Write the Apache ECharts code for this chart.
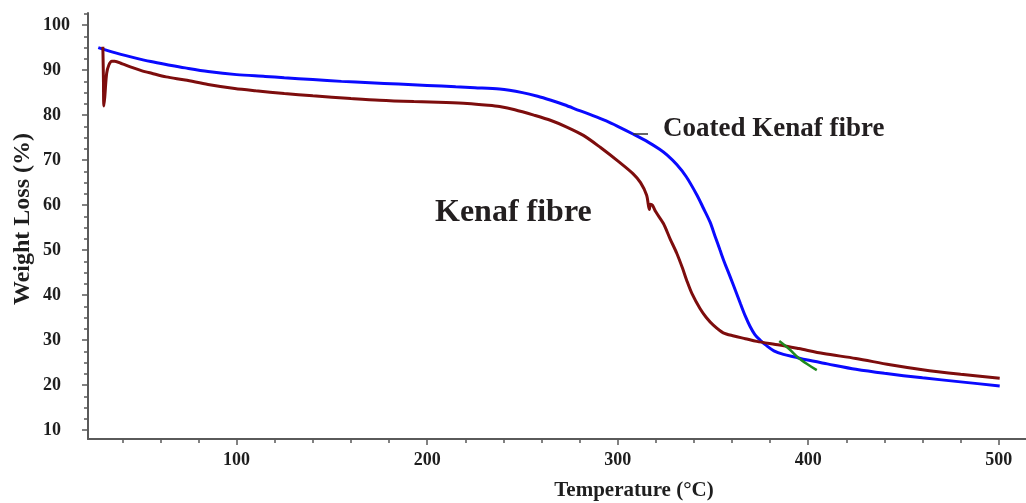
<!DOCTYPE html>
<html>
<head>
<meta charset="utf-8">
<script src="https://cdn.jsdelivr.net/npm/echarts@6/dist/echarts.min.js"></script>
<style>
html,body{margin:0;padding:0;background:#fff;}
#c{width:1026px;height:503px;}
</style>
</head>
<body>
<div id="c"></div>
<script>
// ---- data (temperature °C, weight %) ----
const kenafFibre = [
  [29.8,95.2],[30.1,88.0],[30.3,82.0],[30.8,84.0],[31.8,89.3],[33,91.2],[34.5,92.0],[36,92.0],
  [40,91.4],[45,90.6],[50,89.9],[55.4,89.3],[63,88.5],[73,87.8],[85,86.8],[99,85.9],[110,85.4],
  [125,84.8],[140,84.3],[160,83.7],[175,83.3],[193,83.0],[210,82.8],[221,82.6],[232,82.2],
  [238,81.9],[246,81.2],[256,80.0],[265,78.8],[273,77.4],[282,75.5],[291,72.8],[301,69.5],
  [308,67.0],[312,65.0],[315.2,62.2],[316.6,59.0],[317.2,60.2],[318.2,60.0],[320,58.5],
  [324,55.9],[327.5,52.5],[331,49.3],[334,46.0],[336.2,43.3],[339,40.3],[343.2,37.0],
  [346.5,35.0],[350.2,33.3],[355.4,31.6],[361,30.9],[367,30.3],[373,29.7],[385,28.9],
  [395,28.1],[408,27.0],[425,25.9],[443,24.5],[460,23.4],[480,22.4],[500.5,21.5]
];
const coatedKenafFibre = [
  [27.4,95.0],[35,94.0],[45,92.9],[55,91.9],[65,91.1],[73,90.5],[85,89.7],[100,89.0],
  [115,88.6],[125,88.3],[140,87.9],[155,87.5],[170,87.2],[185,86.9],[200,86.6],[215,86.3],
  [225,86.1],[238,85.8],[250,85.0],[258,84.2],[265,83.3],[272,82.3],[280,81.0],[287,79.9],
  [294,78.7],[300,77.5],[308,75.8],[316,74.0],[322,72.4],[326,71.1],[331,69.0],[336,66.3],
  [341.5,62.3],[345,59.3],[348.5,56.2],[351,53.2],[353.7,50.0],[356,47.3],[359,44.1],
  [362,40.8],[364.5,38.0],[367,35.3],[369.5,33.0],[372,31.2],[374.7,30.0],[378,28.8],
  [382,27.6],[387,26.8],[393,26.2],[399,25.6],[410,24.7],[425,23.5],[440,22.6],[460,21.6],
  [480,20.7],[500.5,19.8]
];
const greenMark = [[384.8,29.8],[390,28.0],[395,26.0],[400,24.5],[404.5,23.3]];

const xLabelValues = [100,200,300,400,500];
const xMinorTicks = [40,60,80,120,140,160,180,220,240,260,280,320,340,360,380,420,440,460,480];
const yLabelValues = [10,20,30,40,50,60,70,80,90,100];
const yMinorTicks = [12.5,15,17.5,22.5,25,27.5,32.5,35,37.5,42.5,45,47.5,52.5,55,57.5,
  62.5,65,67.5,72.5,75,77.5,82.5,85,87.5,92.5,95,97.5,102.5];

const xRange = [22, 514.3];
const yRange = [8, 102.7];

const FONT = "'Liberation Serif','Times New Roman',serif";
const AXIS = '#5a5a5a';
const TXT = '#1e1e1e';

const chart = echarts.init(document.getElementById('c'), null, {renderer:'canvas'});

function xAxisDef(ticks, len, showLine, showLabel){
  return {
    type:'value', min:xRange[0], max:xRange[1], position:'bottom', offset:0,
    axisLine:{show:showLine, onZero:false, lineStyle:{color:AXIS, width:2}},
    axisTick:{show:true, customValues:ticks, length:len, lineStyle:{color:AXIS, width:1.5}},
    axisLabel:{show:showLabel, customValues:xLabelValues, margin:12, fontFamily:FONT,
      fontWeight:'bold', fontSize:18, color:TXT},
    splitLine:{show:false}
  };
}
function yAxisDef(ticks, len, showLine, showLabel){
  return {
    type:'value', min:yRange[0], max:yRange[1], position:'left', offset:0,
    axisLine:{show:showLine, onZero:false, lineStyle:{color:AXIS, width:2}},
    axisTick:{show:true, customValues:ticks, length:len, lineStyle:{color:AXIS, width:1.5}},
    axisLabel:{show:showLabel, customValues:yLabelValues, margin:45, align:'left',
      fontFamily:FONT, fontWeight:'bold', fontSize:18, color:TXT},
    splitLine:{show:false}
  };
}

const option = {
  animation:false,
  backgroundColor:'#ffffff',
  grid:{left:88, right:0, top:13, bottom:64, containLabel:false, outerBoundsMode:'none'},
  xAxis:[ xAxisDef(xLabelValues, 6, true, true), xAxisDef(xMinorTicks, 4, false, false) ],
  yAxis:[ yAxisDef(yLabelValues, 6, true, true), yAxisDef(yMinorTicks, 4, false, false) ],
  series:[
    {name:'Coated Kenaf fibre', type:'line', data:coatedKenafFibre, xAxisIndex:0, yAxisIndex:0,
      showSymbol:false, smooth:0.3, lineStyle:{color:'#0a0aff', width:3}, z:2},
    {name:'Kenaf fibre', type:'line', data:kenafFibre, xAxisIndex:0, yAxisIndex:0,
      showSymbol:false, smooth:0.3, lineStyle:{color:'#7d0d0d', width:3}, z:3},
    {name:'mark', type:'line', data:greenMark, xAxisIndex:0, yAxisIndex:0,
      showSymbol:false, smooth:true, lineStyle:{color:'#1f8a1f', width:2.5}, z:4}
  ],
  graphic:[
    {type:'text', x:435, y:213, z:10,
      style:{text:'Kenaf fibre', font:'bold 32px ' + FONT, fill:'#231f20', align:'left', verticalAlign:'middle'}},
    {type:'text', x:663, y:129, z:10,
      style:{text:'Coated Kenaf fibre', font:'bold 27px ' + FONT, fill:'#231f20', align:'left', verticalAlign:'middle'}},
    {type:'line', z:10, shape:{x1:633, y1:134, x2:648, y2:134}, style:{stroke:'#333', lineWidth:1.5}},
    {type:'text', x:634, y:491, z:10,
      style:{text:'Temperature (°C)', font:'bold 21px ' + FONT, fill:TXT, align:'center', verticalAlign:'middle'}},
    {type:'text', x:23, y:219, rotation:Math.PI/2, z:10,
      style:{text:'Weight Loss (%)', font:'bold 24px ' + FONT, fill:TXT, align:'center', verticalAlign:'middle'}}
  ]
};
chart.setOption(option);
</script>
</body>
</html>
